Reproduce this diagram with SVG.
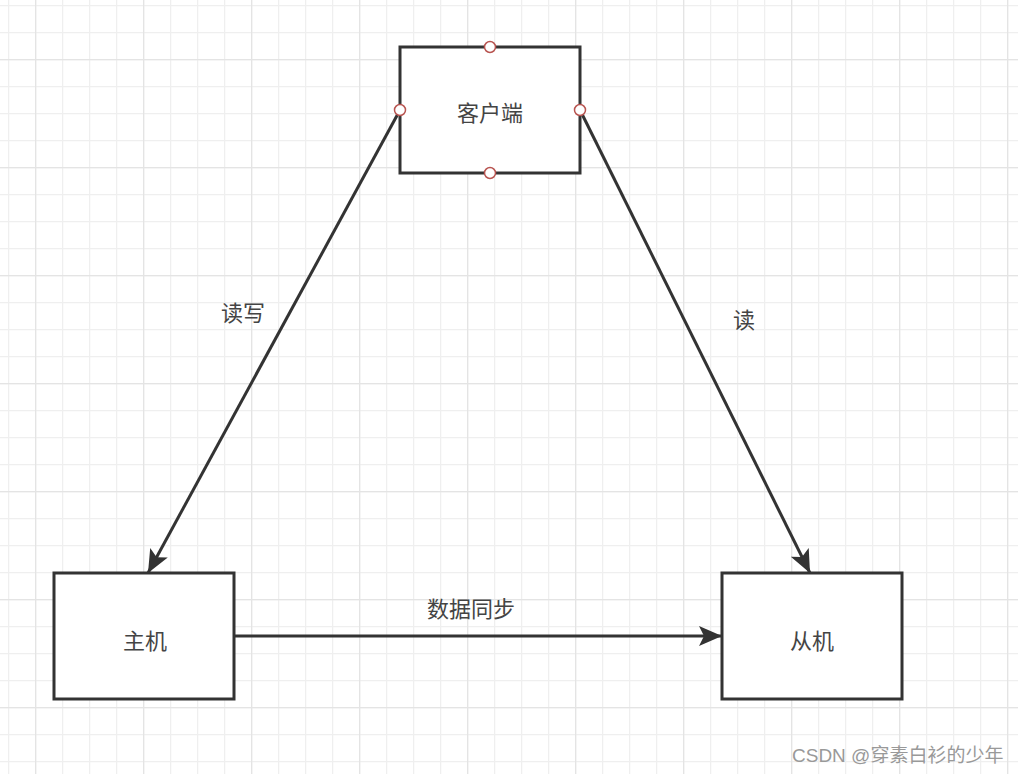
<svg xmlns="http://www.w3.org/2000/svg" width="1018" height="774" viewBox="0 0 1018 774">
  <defs>
    <pattern id="minor" x="8" y="5" width="27" height="27" patternUnits="userSpaceOnUse">
      <path d="M0 0 V27 M0 0 H27" stroke="#efefef" stroke-width="2.5" fill="none"/>
    </pattern>
    <pattern id="major" x="35" y="59" width="108" height="108" patternUnits="userSpaceOnUse">
      <path d="M0 0 V108 M0 0 H108" stroke="#e4e4e4" stroke-width="2.5" fill="none"/>
    </pattern>
    <marker id="arrow" markerUnits="userSpaceOnUse" markerWidth="26" markerHeight="22" refX="23" refY="10" orient="auto">
      <path d="M0 0 L23 10 L0 20 L5 10 Z" fill="#333"/>
    </marker>
    <style>
      .box { fill: #fff; stroke: #333; stroke-width: 3; }
      .edge { fill: none; stroke: #333; stroke-width: 3; marker-end: url(#arrow); }
      .port { fill: #fff; stroke: #b85450; stroke-width: 1.5; }
      .lbl { font-family: "Noto Sans CJK SC", sans-serif; font-size: 22px; fill: #444; text-anchor: middle; dominant-baseline: central; }
      .wm { font-family: "Liberation Sans", "Noto Sans CJK SC", sans-serif; font-size: 19px; fill: #999; }
    </style>
  </defs>
  <rect width="1018" height="774" fill="#fff"/>
  <rect width="1018" height="774" fill="url(#minor)"/>
  <rect width="1018" height="774" fill="url(#major)"/>

  <g id="connectors">
    <path class="edge" d="M400 110 L148 573"/>
    <path class="edge" d="M580 110 L810 573"/>
    <path class="edge" d="M234 636 L722 636"/>
    <text class="lbl" x="243" y="311">读写</text>
    <text class="lbl" x="744" y="318">读</text>
    <text class="lbl" x="471" y="607">数据同步</text>
  </g>

  <g id="client">
    <rect class="box" x="400" y="47" width="180" height="126"/>
    <text class="lbl" x="490" y="111">客户端</text>
    <circle class="port" cx="490" cy="47" r="5.5"/>
    <circle class="port" cx="400" cy="110" r="5.5"/>
    <circle class="port" cx="580" cy="110" r="5.5"/>
    <circle class="port" cx="490" cy="173" r="5.5"/>
  </g>

  <g id="master">
    <rect class="box" x="54" y="573" width="180" height="126"/>
    <text class="lbl" x="145" y="639">主机</text>
  </g>

  <g id="slave">
    <rect class="box" x="722" y="573" width="180" height="126"/>
    <text class="lbl" x="812" y="639">从机</text>
  </g>

  <text class="wm" x="792" y="762">CSDN @穿素白衫的少年</text>
</svg>
